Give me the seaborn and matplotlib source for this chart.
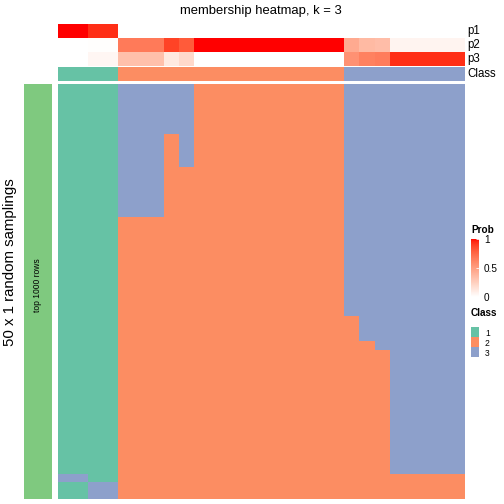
"""membership heatmap, k = 3 —— 用 seaborn 重绘。"""

import matplotlib
matplotlib.use("Agg")
import matplotlib.pyplot as plt
import numpy as np
import pandas as pd
import seaborn as sns
from matplotlib.colors import ListedColormap

plt.rcParams["font.family"] = ["Liberation Sans", "DejaVu Sans"]

# ---- 数据 -------------------------------------------------------------
samples = [f"s{i + 1}" for i in range(27)]
class_label = [1, 1, 1, 1,
               2, 2, 2, 2, 2, 2, 2, 2, 2, 2, 2, 2, 2, 2, 2,
               3, 3, 3, 3, 3, 3, 3, 3]
p1 = [1.0, 1.0, 0.94, 0.94,
      0, 0, 0, 0, 0, 0, 0, 0, 0, 0, 0, 0, 0, 0, 0,
      0, 0, 0, 0, 0, 0, 0, 0]
p2 = [0, 0, 0.01, 0.01,
      0.67, 0.67, 0.67, 0.88, 0.80, 1, 1, 1, 1, 1, 1, 1, 1, 1, 1,
      0.44, 0.36, 0.34, 0.06, 0.06, 0.06, 0.06, 0.06]
p3 = [0, 0, 0.05, 0.05,
      0.33, 0.33, 0.33, 0.12, 0.20, 0, 0, 0, 0, 0, 0, 0, 0, 0, 0,
      0.56, 0.64, 0.66, 0.94, 0.94, 0.94, 0.94, 0.94]

# 每列 50 次抽样的分类结果，按 (类别, 行数) 游程记录
body_runs = (
    [[(1, 47), (3, 1), (1, 2)]] * 2
    + [[(1, 48), (3, 2)]] * 2
    + [[(3, 16), (2, 34)]] * 3
    + [[(3, 6), (2, 44)]]
    + [[(3, 10), (2, 40)]]
    + [[(2, 50)]] * 10
    + [[(3, 28), (2, 22)]]
    + [[(3, 31), (2, 19)]]
    + [[(3, 32), (2, 18)]]
    + [[(3, 47), (2, 3)]] * 5
)

class_colors = ["#66C2A5", "#FC8D62", "#8DA0CB"]
side_color = "#7FC97F"


def _lab_ramp(c0, c1, n=256):
    """在 LAB 空间里插值两种颜色（同 colorRamp2 默认）。"""
    M = np.array([[0.4124, 0.3576, 0.1805],
                  [0.2126, 0.7152, 0.0722],
                  [0.0193, 0.1192, 0.9505]])
    white = np.array([0.95047, 1.0, 1.08883])

    def to_lab(rgb):
        c = np.asarray(rgb, float)
        lin = np.where(c <= 0.04045, c / 12.92, ((c + 0.055) / 1.055) ** 2.4)
        xyz = M @ lin / white
        f = np.where(xyz > 0.008856, np.cbrt(xyz), 7.787 * xyz + 16 / 116)
        return np.array([116 * f[1] - 16, 500 * (f[0] - f[1]), 200 * (f[1] - f[2])])

    def to_rgb(lab):
        fy = (lab[0] + 16) / 116
        f = np.array([fy + lab[1] / 500, fy, fy - lab[2] / 200])
        xyz = np.where(f ** 3 > 0.008856, f ** 3, (f - 16 / 116) / 7.787) * white
        lin = np.clip(np.linalg.solve(M, xyz), 0, 1)
        c = np.where(lin <= 0.0031308, 12.92 * lin, 1.055 * lin ** (1 / 2.4) - 0.055)
        return np.clip(c, 0, 1)

    a, b = to_lab(c0), to_lab(c1)
    return ListedColormap([to_rgb(a + (b - a) * t) for t in np.linspace(0, 1, n)])


def _ax(fig, x0, y0, x1, y1):
    """按像素坐标（左上为原点）新建坐标轴。"""
    W = H = 504
    return fig.add_axes([x0 / W, 1 - y1 / H, (x1 - x0) / W, (y1 - y0) / H])


def main() -> None:
    prob_cmap = _lab_ramp((1, 1, 1), (1, 0, 0))
    cls_cmap = ListedColormap(class_colors)

    prob = pd.DataFrame([p1, p2, p3], index=["p1", "p2", "p3"], columns=samples)
    cls = pd.DataFrame([class_label], index=["Class"], columns=samples)
    body = np.array([[c for c, n in runs for _ in range(n)] for runs in body_runs]).T

    fig = plt.figure(figsize=(7, 7), dpi=72)

    ax_p = _ax(fig, 58, 24, 465, 66)
    ax_cb = _ax(fig, 471, 239, 479, 297)
    sns.heatmap(prob, cmap=prob_cmap, vmin=0, vmax=1, ax=ax_p, cbar=True, cbar_ax=ax_cb,
                cbar_kws={"ticks": [0, 0.5, 1]}, xticklabels=False, yticklabels=False)
    cb = ax_p.collections[0].colorbar
    cb.outline.set_visible(False)
    cb.set_ticklabels(["0", "0.5", "1"])
    cb.ax.tick_params(direction="in", length=3, color="white", labelsize=10, pad=5)

    ax_c = _ax(fig, 58, 67, 465, 81)
    sns.heatmap(cls, cmap=cls_cmap, vmin=0.5, vmax=3.5, cbar=False, ax=ax_c,
                xticklabels=False, yticklabels=False)

    ax_b = _ax(fig, 58, 84, 465, 499)
    sns.heatmap(body, cmap=cls_cmap, vmin=0.5, vmax=3.5, cbar=False, ax=ax_b,
                xticklabels=False, yticklabels=False)

    ax_s = _ax(fig, 24, 84, 52, 499)
    sns.heatmap(np.ones((1, 1)), cmap=ListedColormap([side_color]), cbar=False, ax=ax_s,
                xticklabels=False, yticklabels=False)

    ax_l = _ax(fig, 471, 327, 479, 357)
    sns.heatmap(np.array([[1], [2], [3]]), cmap=cls_cmap, vmin=0.5, vmax=3.5, cbar=False,
                ax=ax_l, xticklabels=False, yticklabels=["1", "2", "3"])
    ax_l.yaxis.tick_right()
    ax_l.tick_params(axis="y", length=0, labelsize=8.5, pad=6, labelrotation=0)

    for ax in (ax_p, ax_c, ax_b, ax_s, ax_l):
        ax.set_xlabel("")
        ax.set_ylabel("")

    def px(x, y):
        return x / 504, 1 - y / 504

    fig.text(*px(261, 11), "membership heatmap, k = 3", ha="center", va="center", fontsize=13)
    for name, y in (("p1", 31), ("p2", 45), ("p3", 59), ("Class", 74)):
        fig.text(*px(467, y), name, ha="left", va="center", fontsize=11.5)
    fig.text(*px(471, 230), "Prob", ha="left", va="center", fontsize=10, fontweight="bold")
    fig.text(*px(471, 313), "Class", ha="left", va="center", fontsize=10, fontweight="bold")
    fig.text(*px(10, 262), "50 x 1 random samplings", rotation=90,
             ha="center", va="center", fontsize=15)
    fig.text(*px(38, 285), "top 1000 rows", rotation=90, ha="center", va="center", fontsize=8.5)

    fig.savefig("out.png", dpi=72)
    plt.close(fig)


if __name__ == "__main__":
    main()
